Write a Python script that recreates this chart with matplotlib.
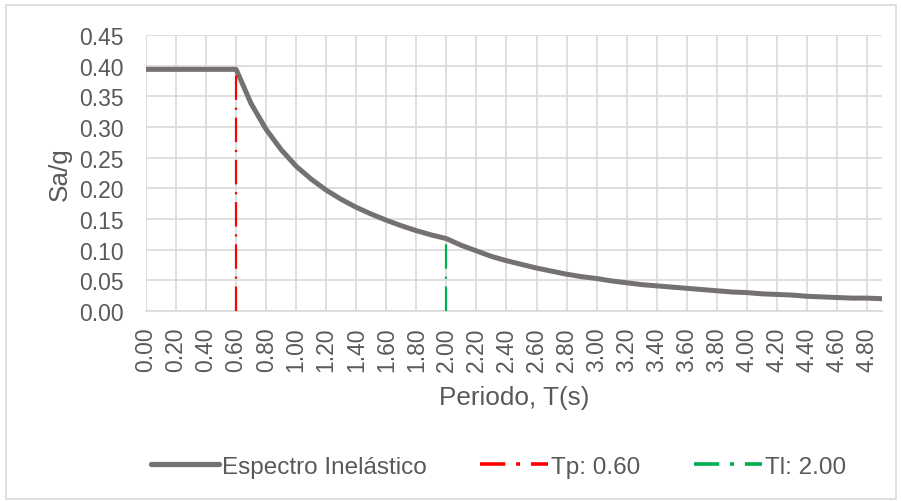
import matplotlib.pyplot as plt
from matplotlib.lines import Line2D
from matplotlib.patches import Rectangle

plt.rcParams['font.family'] = ['Liberation Sans', 'DejaVu Sans']

# Inelastic design spectrum, Sa/g against period T (s)
periodo = [0.0, 0.1, 0.2, 0.3, 0.4, 0.5, 0.6, 0.7, 0.8, 0.9,
           1.0, 1.1, 1.2, 1.3, 1.4, 1.5, 1.6, 1.7, 1.8, 1.9,
           2.0, 2.1, 2.2, 2.3, 2.4, 2.5, 2.6, 2.7, 2.8, 2.9,
           3.0, 3.1, 3.2, 3.3, 3.4, 3.5, 3.6, 3.7, 3.8, 3.9,
           4.0, 4.1, 4.2, 4.3, 4.4, 4.5, 4.6, 4.7, 4.8, 4.9]
sa = [0.394, 0.394, 0.394, 0.394, 0.394, 0.394, 0.394, 0.338, 0.296, 0.263,
      0.236, 0.215, 0.197, 0.182, 0.169, 0.158, 0.148, 0.139, 0.131, 0.124,
      0.118, 0.107, 0.098, 0.089, 0.082, 0.076, 0.070, 0.065, 0.060, 0.056,
      0.053, 0.049, 0.046, 0.043, 0.041, 0.039, 0.037, 0.035, 0.033, 0.031,
      0.030, 0.028, 0.027, 0.026, 0.024, 0.023, 0.022, 0.021, 0.021, 0.020]

# Characteristic periods
tp = 0.60
tp_sa = 0.394
tl = 2.00
tl_sa = 0.118

x_ticks = [i * 0.2 for i in range(25)]
y_ticks = [i * 0.05 for i in range(10)]

txt = '#595959'
grid = '#d9d9d9'
gris = '#767171'
rojo = '#ff0000'
verde = '#00b050'

fig = plt.figure(figsize=(9.01, 5.02), dpi=100)
fig.patches.append(Rectangle((6 / 901, 0.004), 890 / 901, 1 - 0.004 - 6 / 502,
                             transform=fig.transFigure, fill=False,
                             edgecolor=grid, linewidth=1.2))

ax = fig.add_axes([146 / 901, 1 - 312 / 502, (882 - 146) / 901, (312 - 36) / 502])

ax.plot(periodo, sa, color=gris, linewidth=3.6, solid_capstyle='round', zorder=3)
ax.plot([tp, tp], [0, tp_sa], color=rojo, linewidth=1.6,
        dashes=(11, 3.5, 1, 3.5), zorder=4)
ax.plot([tl, tl], [0, tl_sa], color=verde, linewidth=1.6,
        dashes=(11, 3.5, 1, 3.5), zorder=4)

ax.set_xlim(0, 4.9)
ax.set_ylim(0, 0.45)
ax.set_xticks(x_ticks)
ax.set_xticklabels([f'{v:.2f}' for v in x_ticks], rotation=90)
ax.set_yticks(y_ticks)
ax.set_yticklabels([f'{v:.2f}' for v in y_ticks])
ax.tick_params(axis='both', length=0, labelsize=16.5, colors=txt)
ax.tick_params(axis='y', pad=16)
ax.tick_params(axis='x', pad=11)
ax.grid(True, color=grid, linewidth=1.2)
ax.set_axisbelow(True)
for s in ax.spines.values():
    s.set_visible(False)
ax.spines['bottom'].set_visible(True)
ax.spines['bottom'].set_color(grid)
ax.spines['bottom'].set_linewidth(1.2)

ax.set_xlabel('Periodo, T(s)', fontsize=18.8, color=txt, labelpad=10.5)
ax.set_ylabel('Sa/g', fontsize=18.8, color=txt, labelpad=5)

# legend entries drawn with a wider dash pattern
handles = [
    Line2D([], [], color=gris, linewidth=3.8, solid_capstyle='round'),
    Line2D([], [], color=rojo, linewidth=2.6, dashes=(7, 3, 1.1, 3)),
    Line2D([], [], color=verde, linewidth=2.6, dashes=(7, 3, 1.1, 3)),
]
labels = ['Espectro Inelástico', f'Tp: {tp:.2f}', f'Tl: {tl:.2f}']
leg = fig.legend(handles, labels, loc='center', bbox_to_anchor=(0.553, 0.068),
                 ncol=3, frameon=False, fontsize=17.5, handlelength=2.8,
                 columnspacing=2.2, handletextpad=0.12)
for t in leg.get_texts():
    t.set_color(txt)

fig.savefig('out.png', dpi=100, facecolor='white')
